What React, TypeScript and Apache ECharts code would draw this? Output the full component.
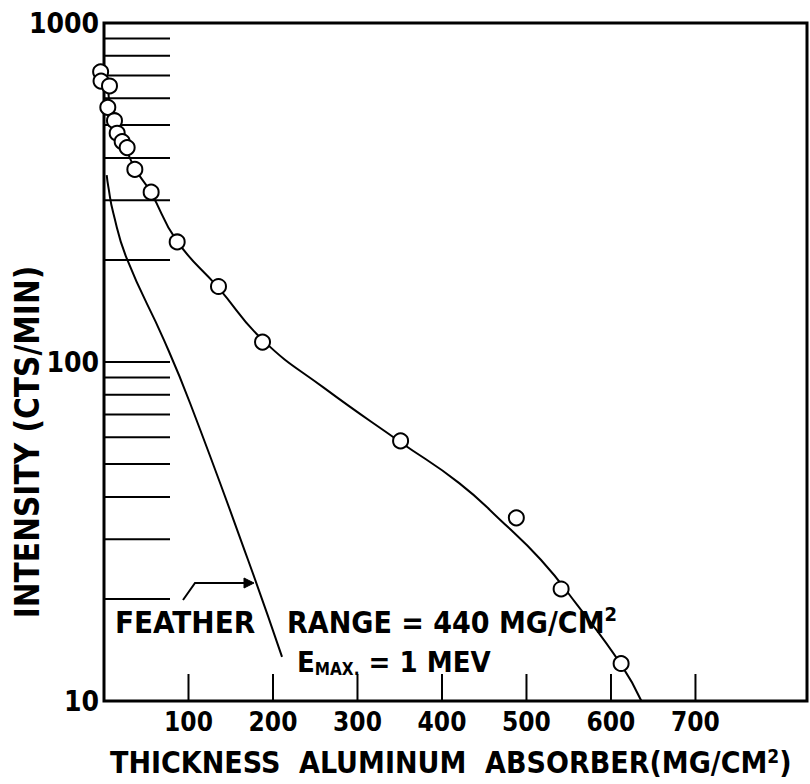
import React, { useEffect, useRef } from "react";
import * as echarts from "echarts";

// measured absorber thickness (mg/cm^2) and counting rate (cts/min)
const thickness = [-4, -3.5, 6.5, 4.5, 12.4, 15.6, 21.5, 27.4, 36.5, 55.8, 86.6, 135.5, 187.6, 351, 488, 541, 612];
const intensity = [718, 674, 652, 564, 515, 473, 447, 429, 370, 317, 226, 167, 114.5, 58.5, 34.7, 21.4, 12.9];

// hand-drawn absorption curve through the points
const curveX = [5, 7, 12, 22, 36, 55, 86, 135, 188, 260, 351, 420, 469, 517, 560, 612, 636];
const curveY = [650, 570, 515, 452, 375, 318, 228, 166, 116, 84, 58, 44, 34.2, 26.1, 19.2, 12.8, 10];

// Feather comparison curve
const featherX = [3.2, 5.1, 11, 26.9, 71, 101.8, 170.4, 210.7];
const featherY = [356, 329, 275, 202, 116, 75.7, 26.1, 13.5];

// graph-paper tick marks
const xTickValues = [100, 200, 300, 400, 500, 600, 700];
const yTickValues = [20, 30, 40, 50, 60, 70, 80, 90, 100, 200, 300, 400, 500, 600, 700, 800, 900];
const xLabelValues = [100, 200, 300, 400, 500, 600, 700];

const FONT = "'DejaVu Sans Condensed', 'DejaVu Sans', sans-serif";

export default function App() {
  const ref = useRef<HTMLDivElement>(null);
  useEffect(() => {
    if (!ref.current) return;
    const chart = echarts.init(ref.current, undefined, { renderer: "svg" });
    const option: any = {
      animation: false,
      backgroundColor: "#fff",
      grid: {
        left: 104,
        top: 23,
        width: 703,
        height: 678,
        show: true,
        borderColor: "#000",
        borderWidth: 3,
        backgroundColor: "transparent",
      },
      xAxis: {
        type: "value",
        min: 0,
        max: 832,
        interval: 100,
        axisLine: { show: false },
        axisTick: { show: false },
        splitLine: { show: false },
        axisLabel: {
          margin: 8,
          color: "#000",
          fontFamily: FONT,
          fontWeight: "bold",
          fontSize: 26,
          formatter: (v: number) => (xLabelValues.indexOf(v) >= 0 ? String(v) : ""),
        },
      },
      yAxis: {
        type: "log",
        logBase: 10,
        min: 10,
        max: 1000,
        axisLine: { show: false },
        axisTick: { show: false },
        splitLine: { show: false },
        axisLabel: {
          margin: 5,
          color: "#000",
          fontFamily: FONT,
          fontWeight: "bold",
          fontSize: 28,
          formatter: (v: number) => String(Math.round(v)),
        },
      },
      series: [
        {
          type: "custom",
          silent: true,
          data: yTickValues.map((v) => [0, v]),
          renderItem: (params: any, api: any) => {
            const p = api.coord([0, api.value(1)]);
            return {
              type: "line",
              shape: { x1: p[0], y1: p[1], x2: p[0] + 66, y2: p[1] },
              style: { stroke: "#000", lineWidth: 2 },
            };
          },
          z: 1,
        },
        {
          type: "custom",
          silent: true,
          data: xTickValues.map((v) => [v, 10]),
          renderItem: (params: any, api: any) => {
            const p = api.coord([api.value(0), 10]);
            return {
              type: "line",
              shape: { x1: p[0], y1: p[1], x2: p[0], y2: p[1] - 27 },
              style: { stroke: "#000", lineWidth: 2 },
            };
          },
          z: 1,
        },
        {
          type: "line",
          data: curveX.map((x, i) => [x, curveY[i]]),
          smooth: 0.5,
          showSymbol: false,
          lineStyle: { color: "#000", width: 2 },
          z: 2,
        },
        {
          type: "line",
          data: featherX.map((x, i) => [x, featherY[i]]),
          smooth: 0.5,
          showSymbol: false,
          lineStyle: { color: "#000", width: 2 },
          z: 2,
        },
        {
          type: "scatter",
          clip: false,
          data: thickness.map((x, i) => [x, intensity[i]]),
          symbol: "circle",
          symbolSize: 15,
          itemStyle: { color: "#fff", borderColor: "#000", borderWidth: 2, opacity: 1 },
          z: 3,
        },
      ],
      graphic: [
        {
          type: "text",
          x: 27,
          y: 442,
          rotation: Math.PI / 2,
          style: {
            text: "INTENSITY (CTS/MIN)",
            font: `bold 33px ${FONT}`,
            fill: "#000",
            align: "center",
            verticalAlign: "middle",
          },
        },
        {
          type: "text",
          x: 110,
          y: 762,
          style: {
            text: "{m|THICKNESS  ALUMINUM  ABSORBER(MG/CM}{s|2}{m|)}",
            fill: "#000",
            align: "left",
            verticalAlign: "middle",
            rich: {
              m: { font: `bold 30px ${FONT}`, fill: "#000" },
              s: { font: `bold 19px ${FONT}`, fill: "#000", padding: [0, 0, 12, 0] },
            },
          },
        },
        {
          type: "text",
          x: 115,
          y: 622,
          style: {
            text: "FEATHER",
            font: `bold 31px ${FONT}`,
            fill: "#000",
            align: "left",
            verticalAlign: "middle",
          },
        },
        {
          type: "text",
          x: 287,
          y: 622,
          style: {
            text: "{m|RANGE = 440 MG/CM}{s|2}",
            fill: "#000",
            align: "left",
            verticalAlign: "middle",
            rich: {
              m: { font: `bold 30px ${FONT}`, fill: "#000" },
              s: { font: `bold 20px ${FONT}`, fill: "#000", padding: [0, 0, 16, 0] },
            },
          },
        },
        {
          type: "text",
          x: 297,
          y: 662,
          style: {
            text: "{m|E}{b|MAX.}{m| = 1 MEV}",
            fill: "#000",
            align: "left",
            verticalAlign: "middle",
            rich: {
              m: { font: `bold 29px ${FONT}`, fill: "#000" },
              b: { font: `bold 17px ${FONT}`, fill: "#000", padding: [14, 0, 0, 0] },
            },
          },
        },
        {
          type: "polyline",
          shape: { points: [[183, 600], [195, 583], [248, 583]] },
          style: { stroke: "#000", lineWidth: 2, fill: null },
        },
        {
          type: "polygon",
          shape: { points: [[244, 578], [254, 583], [244, 588]] },
          style: { fill: "#000", stroke: "#000", lineWidth: 1 },
        },
      ],
    };
    chart.setOption(option);
    return () => chart.dispose();
  }, []);
  return (
    <div
      ref={ref}
      style={{ position: "fixed", left: 0, top: 0, width: 810, height: 784, background: "#fff" }}
    />
  );
}
